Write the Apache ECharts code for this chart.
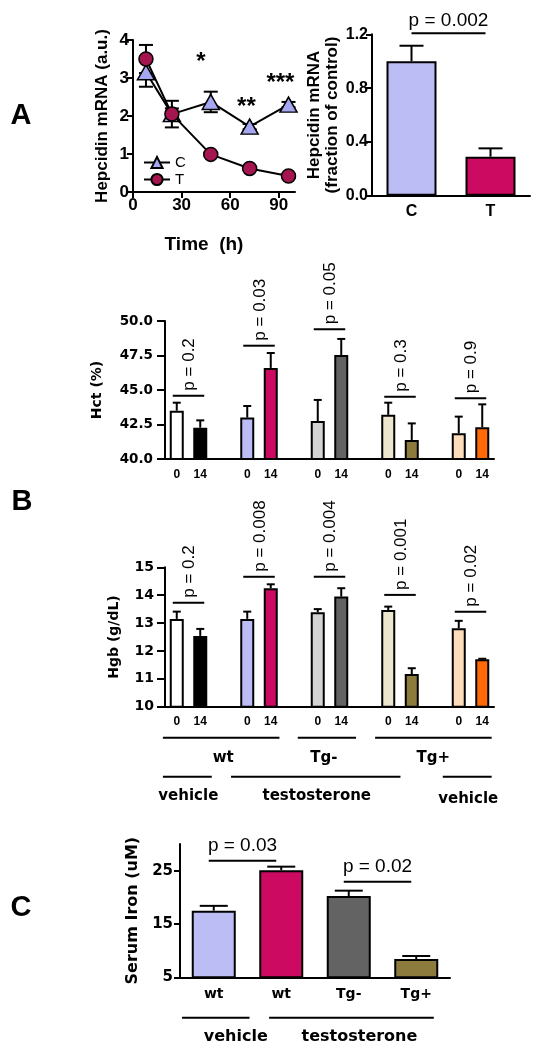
<!DOCTYPE html>
<html><head><meta charset="utf-8">
<script src="https://cdn.jsdelivr.net/npm/echarts@6/dist/echarts.min.js"></script>
<style>html,body{margin:0;padding:0;background:#fff}#c{width:535px;height:1049px}</style>
</head><body><div id="c"></div>
<script>
// ---------- Panel A (left): hepcidin mRNA time course ----------
const timeHours = [8, 24, 48, 72, 96];
const timeTicks = [0, 30, 60, 90];
const hepcidinC = [3.15, 2.05, 2.37, 1.72, 2.30];
const hepcidinCErr = [0.38, 0.35, 0.27, 0.07, 0.07];
const hepcidinT = [3.50, 2.05, 0.99, 0.62, 0.42];
const hepcidinTErr = [0.37, 0.15, 0.05, 0.05, 0.05];
const starTimes = [42, 70, 91];
const starValues = [3.42, 2.24, 2.87];
const starLabels = ['*', '**', '***'];

// ---------- Panel A (right): hepcidin fraction of control ----------
const fracCats = ['C', 'T'];
const fracValues = [1.0, 0.29];
const fracErr = [0.115, 0.062];
const fracBracket = [0, 1, 1.207, 'p = 0.002'];

// ---------- Panel B: Hct and Hgb at day 0 and 14 ----------
const groupNames = ['wt vehicle', 'wt testosterone', 'Tg- testosterone', 'Tg+ testosterone', 'Tg+ vehicle'];
const dayLabels = ['0', '14'];
const hctDay0 = [43.5, 43.0, 42.75, 43.2, 41.86];
const hctDay0Err = [0.58, 0.84, 1.53, 0.88, 1.21];
const hctDay14 = [42.27, 46.6, 47.54, 41.38, 42.3];
const hctDay14Err = [0.53, 1.08, 1.16, 1.2, 1.66];
const hctPLabels = ['p = 0.2', 'p = 0.03', 'p = 0.05', 'p = 0.3', 'p = 0.9'];
const hctBracketValues = [44.59, 48.21, 49.40, 44.51, 44.40];
const hgbDay0 = [13.15, 13.15, 13.39, 13.47, 12.81];
const hgbDay0Err = [0.26, 0.26, 0.11, 0.12, 0.27];
const hgbDay14 = [12.54, 14.25, 13.95, 11.17, 11.70];
const hgbDay14Err = [0.25, 0.14, 0.30, 0.21, 0.02];
const hgbPLabels = ['p = 0.2', 'p = 0.008', 'p = 0.004', 'p = 0.001', 'p = 0.02'];
const hgbBracketValues = [13.73, 14.66, 14.66, 14.01, 13.41];
const genotypeLabels = ['wt', 'Tg-', 'Tg+'];
const genotypeGroups = [[0, 1], [2], [3, 4]];
const treatmentLabels = ['vehicle', 'testosterone', 'vehicle'];
const treatmentGroups = [[0], [1, 2, 3], [4]];

// ---------- Panel C: serum iron ----------
const ironCats = ['wt', 'wt', 'Tg-', 'Tg+'];
const ironValues = [17.5, 25.1, 20.25, 8.43];
const ironErr = [0.9, 0.65, 1.0, 0.57];
const ironBrackets = [[0, 1, 26.86, 'p = 0.03'], [2, 3, 22.93, 'p = 0.02']];
const ironTreatLabels = ['vehicle', 'testosterone'];
const ironTreatGroups = [[0, 0], [1, 3]];
const ironTicks = [5, 15, 25];

// ---------- styles ----------
const day0Colors = ['#ffffff', '#bcbdf5', '#d4d4d4', '#ebe6cc', '#fddcba'];
const day14Colors = ['#000000', '#cc0a62', '#636363', '#8c7b3c', '#ff6a06'];
const ironColors = ['#bcbdf5', '#cc0a62', '#636363', '#8c7b3c'];
const fracColors = ['#bcbdf5', '#cc0a62'];
const FA = 'Liberation Sans', FD = 'DejaVu Sans';
const BLACK = '#000';
const AX = { lineStyle: { color: BLACK, width: 2 } };

// slot layout for panel B: 0,14,gap,0,14,gap,...
const slotLabels = [];
groupNames.forEach((g, i) => { slotLabels.push(dayLabels[0], dayLabels[1]); if (i < groupNames.length - 1) slotLabels.push(''); });
function slotBars(d0, d14) {
  const out = [];
  groupNames.forEach((g, i) => {
    out.push({ value: d0[i], itemStyle: { color: day0Colors[i] } });
    out.push({ value: d14[i], itemStyle: { color: day14Colors[i] } });
    if (i < groupNames.length - 1) out.push('-');
  });
  return out;
}
function slotErr(d0, e0, d14, e14) {
  const out = [];
  groupNames.forEach((g, i) => { out.push([i * 3, d0[i], e0[i]]); out.push([i * 3 + 1, d14[i], e14[i]]); });
  return out;
}

function errSeries(xi, pts, capW, both, z) {
  return {
    type: 'custom', xAxisIndex: xi, yAxisIndex: xi, z: z, silent: true, data: pts,
    encode: { x: 0, y: 1 },
    renderItem: function (params, api) {
      const x = api.value(0), v = api.value(1), e = api.value(2);
      const top = api.coord([x, v + e]);
      const bot = api.coord([x, both ? v - e : v]);
      const h = capW / 2, st = { stroke: BLACK, lineWidth: 2 };
      const ch = [
        { type: 'line', shape: { x1: top[0], y1: top[1], x2: bot[0], y2: bot[1] }, style: st },
        { type: 'line', shape: { x1: top[0] - h, y1: top[1], x2: top[0] + h, y2: top[1] }, style: st }
      ];
      if (both) ch.push({ type: 'line', shape: { x1: bot[0] - h, y1: bot[1], x2: bot[0] + h, y2: bot[1] }, style: st });
      return { type: 'group', children: ch };
    }
  };
}

// rotated p-value brackets for panel B
function rotBrackets(xi, bracketVals, labels) {
  const data = bracketVals.map((v, i) => [i * 3, i * 3 + 1, v]);
  return {
    type: 'custom', xAxisIndex: xi, yAxisIndex: xi, z: 5, silent: true, data: data,
    encode: { x: [0, 1], y: 2 },
    renderItem: function (params, api) {
      const l = api.coord([api.value(0), api.value(2)]);
      const r = api.coord([api.value(1), api.value(2)]);
      return {
        type: 'group', children: [
          { type: 'line', shape: { x1: l[0] - 4, y1: l[1], x2: r[0] + 4, y2: r[1] }, style: { stroke: BLACK, lineWidth: 2 } },
          { type: 'text', x: (l[0] + r[0]) / 2 + 1, y: l[1] - 5, rotation: Math.PI / 2,
            style: { text: labels[params.dataIndex], fill: BLACK, font: '17px "Liberation Sans"', align: 'left', verticalAlign: 'middle' } }
        ]
      };
    }
  };
}

// horizontal p-value brackets
function flatBrackets(xi, brackets, dl, dr, gap, font) {
  return {
    type: 'custom', xAxisIndex: xi, yAxisIndex: xi, z: 5, silent: true,
    data: brackets.map(b => [b[0], b[1], b[2]]),
    encode: { x: [0, 1], y: 2 },
    renderItem: function (params, api) {
      const l = api.coord([api.value(0), api.value(2)]);
      const r = api.coord([api.value(1), api.value(2)]);
      const x1 = l[0] + dl, x2 = r[0] + dr;
      return {
        type: 'group', children: [
          { type: 'line', shape: { x1: x1, y1: l[1], x2: x2, y2: r[1] }, style: { stroke: BLACK, lineWidth: 2 } },
          { type: 'text', x: (x1 + x2) / 2, y: l[1] - gap,
            style: { text: brackets[params.dataIndex][3], fill: BLACK, font: font, align: 'center', verticalAlign: 'middle' } }
        ]
      };
    }
  };
}

// group lines + labels under an axis
function groupRows(xi, yMin, rows) {
  // rows: [{spans:[[from,to,extL,extR,labelShift]], labels, lineDy, labelDy, font}]
  const data = [];
  rows.forEach((row, ri) => row.spans.forEach((s, si) => data.push([s[0], s[1], yMin, ri, si])));
  return {
    type: 'custom', xAxisIndex: xi, yAxisIndex: xi, z: 5, silent: true, data: data,
    encode: { x: [0, 1], y: 2 },
    renderItem: function (params, api) {
      const d = data[params.dataIndex];
      const row = rows[d[3]], s = row.spans[d[4]];
      const a = api.coord([d[0], yMin]), b = api.coord([d[1], yMin]);
      const bw = api.coord([1, yMin])[0] - api.coord([0, yMin])[0];
      const x1 = a[0] - s[2] * bw, x2 = b[0] + s[3] * bw;
      return {
        type: 'group', children: [
          { type: 'line', shape: { x1: x1, y1: a[1] + row.lineDy, x2: x2, y2: a[1] + row.lineDy }, style: { stroke: BLACK, lineWidth: 2 } },
          { type: 'text', x: (x1 + x2) / 2 + s[4], y: a[1] + row.labelDy + (s[5] || 0),
            style: { text: row.labels[d[4]], fill: BLACK, font: row.font, align: 'center', verticalAlign: 'middle' } }
        ]
      };
    }
  };
}

function slotOf(g, k) { return g * 3 + k; }
const bRows = [
  { labels: genotypeLabels, lineDy: 31, labelDy: 51.6, font: 'bold 15px "DejaVu Sans"',
    spans: genotypeGroups.map((gs, i) => [slotOf(gs[0], 0), slotOf(gs[gs.length - 1], 1), [0.59, 0.85, 0.56][i], [0.37, 0.63, 0.4][i], [2, -3, 0][i]]) },
  { labels: treatmentLabels, lineDy: 70, labelDy: 89.3, font: 'bold 15px "DejaVu Sans"',
    spans: treatmentGroups.map((gs, i) => [slotOf(gs[0], 0), slotOf(gs[gs.length - 1], gs.length > 1 ? 0 : 1), [0.59, 0.69, 0.68][i], [0.49, 1.52 - 1, 0.4][i], [1, 1, 1][i], [0, 0, 3][i]]) }
];
const cRows = [
  { labels: ironTreatLabels, lineDy: 40.4, labelDy: 59.4, font: 'bold 16px "DejaVu Sans"',
    spans: ironTreatGroups.map((gs, i) => [gs[0], gs[1], [0.47, 0.18][i], [0.53, 0.26][i], [20, 8][i]]) }
];

const yAxisBase = (gi, extra) => Object.assign({
  gridIndex: gi, type: 'value', splitLine: { show: false },
  axisLine: { show: true, lineStyle: { color: BLACK, width: 2 } },
  axisTick: { show: true, length: 6, lineStyle: { color: BLACK, width: 2 } },
  nameLocation: 'middle'
}, extra);

const option = {
  animation: false,
  backgroundColor: '#fff',
  textStyle: { fontFamily: FA, color: BLACK },
  grid: [
    { left: 133, top: 40, width: 162, height: 152 },
    { left: 372, top: 34.3, width: 158, height: 161.4 },
    { left: 165, top: 321, width: 329, height: 138 },
    { left: 165, top: 567.3, width: 329, height: 139.4 },
    { left: 180, top: 844, width: 270, height: 133.3 }
  ],
  legend: {
    data: ['C', 'T'], orient: 'vertical', left: 143, top: 155, itemWidth: 26, itemHeight: 14, itemGap: 2, padding: 0,
    textStyle: { fontFamily: FA, fontSize: 15, color: BLACK }
  },
  xAxis: [
    { gridIndex: 0, type: 'value', min: 0, max: 100, splitLine: { show: false },
      axisLine: AX, axisTick: { length: 6, lineStyle: { color: BLACK, width: 2 }, customValues: timeTicks },
      axisLabel: { customValues: timeTicks, color: BLACK, fontFamily: FA, fontWeight: 'bold', fontSize: 17, margin: 5 },
      name: 'Time  (h)', nameLocation: 'middle', nameGap: 43,
      nameTextStyle: { fontFamily: FA, fontWeight: 'bold', fontSize: 19, color: BLACK, padding: [0, 20, 0, 0] } },
    { gridIndex: 1, type: 'category', data: fracCats, axisLine: AX, axisTick: { show: false },
      axisLabel: { color: BLACK, fontFamily: FA, fontWeight: 'bold', fontSize: 16, margin: 8 } },
    { gridIndex: 2, type: 'category', data: slotLabels, axisLine: AX, axisTick: { show: false },
      axisLabel: { interval: 0, color: BLACK, fontFamily: FA, fontWeight: 'bold', fontSize: 12, margin: 10 } },
    { gridIndex: 3, type: 'category', data: slotLabels, axisLine: AX, axisTick: { show: false },
      axisLabel: { interval: 0, color: BLACK, fontFamily: FA, fontWeight: 'bold', fontSize: 12, margin: 9 } },
    { gridIndex: 4, type: 'category', data: ironCats, axisLine: AX, axisTick: { show: false },
      axisLabel: { interval: 0, color: BLACK, fontFamily: FD, fontWeight: 'bold', fontSize: 14, margin: 10 } }
  ],
  yAxis: [
    yAxisBase(0, { min: 0, max: 4, interval: 1,
      axisLabel: { color: BLACK, fontFamily: FA, fontWeight: 'bold', fontSize: 17, margin: 4 },
      name: 'Hepcidin mRNA (a.u.)', nameGap: 22,
      nameTextStyle: { fontFamily: FA, fontWeight: 'bold', fontSize: 17, color: BLACK } }),
    yAxisBase(1, { min: 0, max: 1.2, interval: 0.4,
      axisLabel: { color: BLACK, fontFamily: FA, fontWeight: 'bold', fontSize: 16, margin: 4, formatter: v => v.toFixed(1) },
      name: 'Hepcidin mRNA\n(fraction of control)', nameGap: 31,
      nameTextStyle: { fontFamily: FA, fontWeight: 'bold', fontSize: 17, lineHeight: 18, color: BLACK } }),
    yAxisBase(2, { min: 40, max: 50, interval: 2.5,
      axisTick: { show: true, length: 8, lineStyle: { color: BLACK, width: 2 } },
      axisLabel: { color: BLACK, fontFamily: FD, fontWeight: 'bold', fontSize: 13.5, margin: 12, formatter: v => v.toFixed(1) },
      name: 'Hct (%)', nameGap: 61,
      nameTextStyle: { fontFamily: FD, fontWeight: 'bold', fontSize: 14, color: BLACK } }),
    yAxisBase(3, { min: 10, max: 15, interval: 1,
      axisTick: { show: true, length: 8, lineStyle: { color: BLACK, width: 2 } },
      axisLabel: { color: BLACK, fontFamily: FD, fontWeight: 'bold', fontSize: 14, margin: 11 },
      name: 'Hgb (g/dL)', nameGap: 44,
      nameTextStyle: { fontFamily: FD, fontWeight: 'bold', fontSize: 14, color: BLACK } }),
    yAxisBase(4, { min: 5, max: 30,
      axisTick: { show: true, length: 6, customValues: ironTicks, lineStyle: { color: BLACK, width: 2 } },
      axisLabel: { customValues: ironTicks, color: BLACK, fontFamily: FD, fontWeight: 'bold', fontSize: 15, margin: 7 },
      name: 'Serum Iron (uM)', nameGap: 37,
      nameTextStyle: { fontFamily: FD, fontWeight: 'bold', fontSize: 16, color: BLACK } })
  ],
  series: [
    // Panel A line
    errSeries(0, timeHours.map((t, i) => [t, hepcidinC[i], hepcidinCErr[i]]), 14, true, 2),
    errSeries(0, timeHours.map((t, i) => [t, hepcidinT[i], hepcidinTErr[i]]), 14, true, 2),
    { name: 'C', type: 'line', xAxisIndex: 0, yAxisIndex: 0, z: 3,
      data: timeHours.map((t, i) => [t, hepcidinC[i]]),
      symbol: 'triangle', symbolSize: [17, 15],
      itemStyle: { color: '#a5a8f0', borderColor: BLACK, borderWidth: 1.5 },
      lineStyle: { color: BLACK, width: 2 } },
    { name: 'T', type: 'line', xAxisIndex: 0, yAxisIndex: 0, z: 4,
      data: timeHours.map((t, i) => [t, hepcidinT[i]]),
      symbol: 'circle', symbolSize: 14,
      itemStyle: { color: '#a5154f', borderColor: BLACK, borderWidth: 1.5 },
      lineStyle: { color: BLACK, width: 2 } },
    { type: 'custom', xAxisIndex: 0, yAxisIndex: 0, z: 5, silent: true,
      data: starTimes.map((t, i) => [t, starValues[i]]),
      renderItem: function (params, api) {
        const p = api.coord([api.value(0), api.value(1)]);
        return { type: 'text', x: p[0], y: p[1], style: { text: starLabels[params.dataIndex], fill: BLACK, font: 'bold 24px "Liberation Sans"', align: 'center', verticalAlign: 'middle' } };
      } },
    // Panel A bars
    { type: 'bar', xAxisIndex: 1, yAxisIndex: 1, barWidth: 50,
      data: fracValues.map((v, i) => ({ value: v, itemStyle: { color: fracColors[i] } })),
      itemStyle: { borderColor: BLACK, borderWidth: 2 } },
    errSeries(1, fracValues.map((v, i) => [i, v, fracErr[i]]), 24, false, 3),
    flatBrackets(1, [fracBracket], 0, -5, 13, '19px "Liberation Sans"'),
    // Panel B Hct
    { type: 'bar', xAxisIndex: 2, yAxisIndex: 2, barWidth: 14, data: slotBars(hctDay0, hctDay14),
      itemStyle: { borderColor: BLACK, borderWidth: 2 } },
    errSeries(2, slotErr(hctDay0, hctDay0Err, hctDay14, hctDay14Err), 8, false, 3),
    rotBrackets(2, hctBracketValues, hctPLabels),
    // Panel B Hgb
    { type: 'bar', xAxisIndex: 3, yAxisIndex: 3, barWidth: 14, data: slotBars(hgbDay0, hgbDay14),
      itemStyle: { borderColor: BLACK, borderWidth: 2 } },
    errSeries(3, slotErr(hgbDay0, hgbDay0Err, hgbDay14, hgbDay14Err), 8, false, 3),
    rotBrackets(3, hgbBracketValues, hgbPLabels),
    groupRows(3, 10, bRows),
    // Panel C
    { type: 'bar', xAxisIndex: 4, yAxisIndex: 4, barWidth: 44,
      data: ironValues.map((v, i) => ({ value: v, itemStyle: { color: ironColors[i] } })),
      itemStyle: { borderColor: BLACK, borderWidth: 2 } },
    errSeries(4, ironValues.map((v, i) => [i, v, ironErr[i]]), 28, false, 3),
    flatBrackets(4, ironBrackets, -5, -5, 14.5, '19px "Liberation Sans"'),
    groupRows(4, 5, cRows)
  ],
  graphic: [
    { type: 'text', x: 21, y: 116, style: { text: 'A', font: 'bold 29px "Liberation Sans"', fill: BLACK, align: 'center', verticalAlign: 'middle' } },
    { type: 'text', x: 22, y: 502, style: { text: 'B', font: 'bold 29px "Liberation Sans"', fill: BLACK, align: 'center', verticalAlign: 'middle' } },
    { type: 'text', x: 21, y: 908, style: { text: 'C', font: 'bold 29px "Liberation Sans"', fill: BLACK, align: 'center', verticalAlign: 'middle' } }
  ]
};
const chart = echarts.init(document.getElementById('c'));
chart.setOption(option);
</script>
</body></html>
